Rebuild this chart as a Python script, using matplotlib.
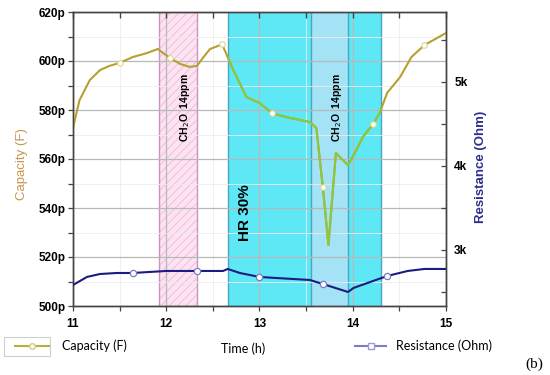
import matplotlib
matplotlib.use("Agg")
import matplotlib.pyplot as plt
import numpy as np
from matplotlib.lines import Line2D
from matplotlib.patches import Rectangle
from matplotlib.ticker import MultipleLocator, FuncFormatter

# Capacity (pF) against time (h)
cap_t = [11.0, 11.07, 11.18, 11.29, 11.39, 11.50, 11.64, 11.79, 11.91, 12.04,
         12.15, 12.25, 12.33, 12.40, 12.47, 12.60, 12.72, 12.86, 13.0, 13.14,
         13.30, 13.54, 13.61, 13.68, 13.74, 13.82, 13.95, 14.04, 14.11, 14.22,
         14.29, 14.37, 14.51, 14.63, 14.77, 15.0]
cap_v = [572.7, 584.0, 592.2, 596.3, 598.0, 599.2, 601.6, 603.2, 604.9, 601.2,
         598.8, 597.6, 598.0, 601.6, 604.9, 606.8, 596.3, 585.3, 582.9, 578.6,
         577.0, 575.1, 572.7, 548.6, 524.9, 562.4, 557.5, 563.7, 569.0, 574.3,
         578.8, 587.0, 593.5, 601.6, 606.5, 611.4]
cap_marks = [5, 9, 15, 19, 23, 29, 34]

# Resistance (Ohm) against time (h)
res_t = [11.0, 11.15, 11.29, 11.47, 11.64, 12.0, 12.33, 12.61, 12.66, 12.79,
         13.0, 13.17, 13.54, 13.68, 13.95, 14.01, 14.25, 14.37, 14.59, 14.77, 15.0]
res_v = [2583, 2679, 2714, 2726, 2726, 2750, 2750, 2750, 2774, 2726,
         2679, 2667, 2643, 2595, 2500, 2548, 2643, 2690, 2750, 2774, 2774]
res_marks = [4, 6, 10, 13, 17]

# exposure windows (h)
ch2o_first = [11.92, 12.33]
humid = [12.66, 14.30]
ch2o_second = [13.55, 13.95]

tick_font = dict(family="Liberation Sans", weight="bold", size=8.5)
rect = [0.1327, 0.184, 0.678, 0.784]

fig = plt.figure(figsize=(5.5, 3.75), dpi=100)
ax = fig.add_axes(rect)
ax2 = ax.twinx()

ax.set_xlim(11, 15)
ax.set_ylim(500, 620)
ax2.set_ylim(2333, 5833)

# shaded windows
ax.axvspan(*ch2o_first, facecolor="#fbe3f1", edgecolor="none", zorder=0.5)
plt.rcParams["hatch.linewidth"] = 0.6
ax.axvspan(*ch2o_first, facecolor="none", edgecolor="#f2b6da", hatch="////",
           linewidth=0, zorder=0.6)
for x in ch2o_first:
    ax.axvline(x, color="#c993c2", lw=1, zorder=0.7)
cyan = ax.axvspan(*humid, facecolor="#5ee8f6", edgecolor="none", zorder=0.5)
ax.axvspan(*ch2o_second, facecolor="#a4e2f6", edgecolor="none", zorder=0.6)
for x in humid + ch2o_second:
    ax.axvline(x, color="#4aa6bc", lw=1, zorder=0.7)

# grid
ax.xaxis.set_major_locator(MultipleLocator(1))
ax.xaxis.set_minor_locator(MultipleLocator(0.5))
ax.yaxis.set_major_locator(MultipleLocator(20))
ax.yaxis.set_minor_locator(MultipleLocator(10))
ax.grid(which="major", color="#b8b8b8", lw=0.9)
ax.grid(which="minor", color="#ececec", lw=0.6)

# curves
ax.plot(cap_t, cap_v, color="#b5a030", lw=1.5, zorder=3)
green, = ax.plot(cap_t, cap_v, color="#8cc83c", lw=1.5, zorder=3.1)
green.set_clip_path(cyan)
ax.plot(np.array(cap_t)[cap_marks], np.array(cap_v)[cap_marks], ls="none",
        marker="o", ms=4, mfc="white", mec="#d8d890", mew=0.8, zorder=4)
ax2.plot(res_t, res_v, color="#1c1c80", lw=1.5, zorder=3,
         marker="o", markevery=res_marks, ms=4.5, mfc="white", mec="#7c7cc4", mew=0.9)

# annotations
ax.text(12.2, 581, "CH$_2$O  14ppm", rotation=90, ha="center", va="center",
        fontsize=7.5, fontweight="bold", family="Liberation Sans")
ax.text(13.83, 581, "CH$_2$O  14ppm", rotation=90, ha="center", va="center",
        fontsize=7.5, fontweight="bold", family="Liberation Sans")
ax.text(12.85, 538, "HR 30%", rotation=90, ha="center", va="center",
        fontsize=11, fontweight="bold", family="Liberation Sans")

# ticks
ax.tick_params(axis="both", which="both", direction="out", length=3.5, width=0.9,
               color="#444444", pad=2)
ax.tick_params(axis="x", pad=5)
ax.yaxis.set_major_formatter(FuncFormatter(lambda v, p: f"{v:.0f}p"))
for lab in ax.get_xticklabels() + ax.get_yticklabels():
    lab.set(**tick_font)
ax2.yaxis.set_major_locator(MultipleLocator(1000))
ax2.yaxis.set_minor_locator(MultipleLocator(500))
ax2.yaxis.set_major_formatter(FuncFormatter(lambda v, p: f"{v / 1000:g}k"))
ax2.tick_params(axis="y", which="both", direction="in", length=3.5, width=0.9,
                color="#444444", pad=6)
for lab in ax2.get_yticklabels():
    lab.set(**tick_font)
for a in (ax, ax2):
    for s in a.spines.values():
        s.set_color("#444444")
        s.set_linewidth(1)

# overlay axes only for the inward ticks along the top edge
top = fig.add_axes(rect, facecolor="none")
top.set_xlim(11, 15)
top.xaxis.tick_top()
top.xaxis.set_major_locator(MultipleLocator(0.5))
top.tick_params(axis="x", direction="in", length=4, width=1, color="#444444",
                labeltop=False)
top.set_yticks([])
for s in top.spines.values():
    s.set_visible(False)

fig.text(22 / 550, 1 - 164 / 375, "Capacity (F)", rotation=90, ha="center",
         va="center", color="#c8964a", fontsize=9.5, family="Liberation Sans")
fig.text(481 / 550, 1 - 167 / 375, "Resistance (Ohm)", rotation=90, ha="center",
         va="center", color="#2e2e8c", fontsize=9.5, fontweight="bold",
         family="Liberation Sans")

# bottom legend strip
leg_font = dict(family="Lato", size=9)
cap_handle = Line2D([], [], color="#b4b040", lw=1.5, marker="o", ms=4,
                    mfc="white", mec="#d8c880")
res_handle = Line2D([], [], color="#7a7ad0", lw=1.5, marker="s", ms=4,
                    mfc="white", mec="#9a9ad8")
fig.legend([cap_handle], ["Capacity (F)"], loc="center left",
           bbox_to_anchor=(15 / 550, 1 - 346 / 375), frameon=False, prop=leg_font,
           handlelength=2.7, handletextpad=1.1, borderpad=0, borderaxespad=0)
fig.legend([res_handle], ["Resistance (Ohm)"], loc="center left",
           bbox_to_anchor=(355 / 550, 1 - 346 / 375), frameon=False, prop=leg_font,
           handlelength=2.5, handletextpad=0.8, borderpad=0, borderaxespad=0)
fig.patches.append(Rectangle((4 / 550, 1 - 356 / 375), 46 / 550, 19 / 375,
                             transform=fig.transFigure, fill=False,
                             edgecolor="#cfcfcf", lw=0.8))
fig.text(243 / 550, 1 - 349 / 375, "Time (h)", ha="center", va="center", **leg_font)
fig.text(534 / 550, 1 - 364 / 375, "(b)", ha="center", va="center",
         family="Liberation Serif", fontsize=11)

fig.savefig("out.png", dpi=100)
